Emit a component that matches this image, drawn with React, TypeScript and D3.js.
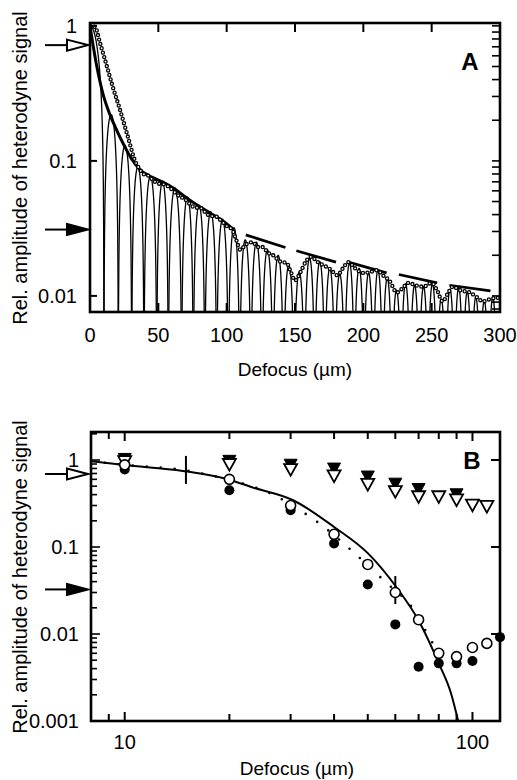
import React from "react";
import * as d3 from "d3";

const W = 517;
const H = 780;
const FONT = "'Liberation Sans', Arial, Helvetica, sans-serif";

// ---------- Panel A: amplitude vs defocus (linear x, log y) ----------
const xTicksA = [0, 50, 100, 150, 200, 250, 300];
const yTicksA = [1, 0.1, 0.01];
const yTickLabelsA = ["1", "0.1", "0.01"];

// zeros of the oscillating signal (µm)
const lobeZerosA = [
  10.2, 20.7, 30.5, 39.5, 48.8, 57.3, 67, 75.6, 84, 92.7, 101.2, 109.5, 117.7,
  125.8, 133.8, 141.6, 149.3, 156.9, 164.4, 171.8, 179.1, 186.3, 193.4, 200.4,
  207.3, 214.1, 220.9, 227.6, 234.2, 240.8, 247.3, 253.8, 260.2, 266.6, 272.9,
  279.2, 285.4, 291.6, 297.8,
];
// peak of the central lobe at zero defocus, then one peak per side lobe
const centralPeakA = 1.0;
const lobePeaksA = [
  0.22, 0.13, 0.09, 0.077, 0.07, 0.063, 0.054, 0.047, 0.042, 0.037, 0.032,
  0.026, 0.025, 0.022, 0.02, 0.017, 0.015, 0.019, 0.018, 0.016, 0.0145, 0.0175,
  0.016, 0.0148, 0.0155, 0.0135, 0.011, 0.0123, 0.012, 0.0117, 0.0123, 0.0095,
  0.0112, 0.0115, 0.0107, 0.0098, 0.0092, 0.0097,
];

// envelope (thick line)
const envDefocusA = [0, 5, 10, 14.6, 20, 25, 30, 36.6, 44, 53, 62, 71, 80, 88, 97, 105];
const envAmpA = [1.0, 0.5, 0.3, 0.22, 0.165, 0.13, 0.105, 0.086, 0.077, 0.07, 0.062, 0.053, 0.046, 0.041, 0.036, 0.031];

// measured profile (open circles)
const measDefocusA = [
  0, 3.7, 7.3, 12.4, 16.8, 21.9, 27.8, 33, 36.6, 40, 42.4, 46, 50, 54, 57, 61, 65,
  69.5, 73, 77, 80.5, 84, 88, 91.4, 96, 100, 104, 107, 110, 114, 119, 123, 126.6,
  130, 134, 139, 144, 147, 150, 154, 158, 162, 166, 170, 175, 178, 181, 185, 189,
  194, 200, 205, 210, 215, 219, 224.6, 229, 233, 238, 244, 250, 254, 258, 262,
  265.5, 271, 278, 283, 287.5, 293, 297.7, 300,
];
const measAmpA = [
  1.0, 0.98, 0.75, 0.5, 0.35, 0.24, 0.15, 0.1, 0.086, 0.079, 0.078, 0.072, 0.068,
  0.067, 0.065, 0.06, 0.055, 0.052, 0.048, 0.045, 0.045, 0.042, 0.039, 0.039,
  0.036, 0.033, 0.031, 0.026, 0.022, 0.024, 0.025, 0.023, 0.023, 0.021, 0.02,
  0.018, 0.0175, 0.015, 0.013, 0.015, 0.018, 0.0195, 0.018, 0.017, 0.016, 0.015,
  0.0142, 0.016, 0.0178, 0.016, 0.0148, 0.015, 0.0155, 0.014, 0.013, 0.0106,
  0.0115, 0.0125, 0.012, 0.0117, 0.0125, 0.011, 0.0091, 0.0105, 0.0117, 0.011,
  0.0106, 0.0098, 0.0091, 0.0095, 0.0097, 0.0095,
];

// straight envelope segments at large defocus
const segStartA = [114, 151, 189, 226, 263];
const segEndA = [143, 180, 217, 254, 293];
const segStartAmpA = [0.0283, 0.0216, 0.0178, 0.0144, 0.012];
const segEndAmpA = [0.0228, 0.0178, 0.0148, 0.0125, 0.0109];

// arrow levels on the amplitude axis
const openArrowLevel = 0.72;
const filledArrowLevel = 0.031;

// ---------- Panel B: amplitude vs defocus (log x, log y) ----------
const xTickLabelsB = [10, 100];
const xMinorB = [9, 10, 20, 30, 40, 50, 60, 70, 80, 90, 100];
const yTicksB = [1, 0.1, 0.01, 0.001];
const yTickLabelsB = ["1", "0.1", "0.01", "0.001"];

const defocusB = [10, 20, 30, 40, 50, 60, 70, 80, 90, 100, 110, 120];
const openCircleB = [0.88, 0.6, 0.3, 0.14, 0.063, 0.03, 0.0146, 0.006, 0.0055, 0.007, 0.0078, null];
const filledCircleB = [0.78, 0.45, 0.265, 0.11, 0.037, 0.0129, 0.0042, 0.0046, 0.0046, 0.0049, null, 0.0092];
const openTriB = [0.95, 0.88, 0.77, 0.65, 0.52, 0.43, 0.375, 0.375, 0.345, 0.3, 0.29, null];
const filledTriB = [1.02, 0.97, 0.875, 0.79, 0.64, 0.53, 0.46, null, 0.4, null, null, null];

// model curve (solid)
const fitDefocusB = [8, 10, 14.7, 20.1, 23.1, 30.5, 40, 50, 60.6, 70, 80, 86.7, 91];
const fitAmpB = [0.97, 0.875, 0.75, 0.59, 0.49, 0.345, 0.17, 0.085, 0.034, 0.0143, 0.0046, 0.0021, 0.001];

// second model (dotted)
const dotDefocusB = [8, 10, 15, 20, 26, 32.5, 36.2, 44.8, 55.7, 68, 77, 83];
const dotAmpB = [0.97, 0.88, 0.76, 0.59, 0.42, 0.253, 0.188, 0.092, 0.041, 0.0187, 0.0078, 0.0054];

// bars marking characteristic defocus values on the curve
const barDefocusB = [15, 60];
const barAmpB = [0.77, 0.032];

// ---------- geometry ----------
const A = { left: 90, right: 500, top: 23, bottom: 312 };
const B = { left: 91, right: 500, top: 432, bottom: 721 };

const xA = d3.scaleLinear().domain([0, 300]).range([A.left, A.right]);
const yA = d3.scaleLog().domain([0.0076, 1.05]).range([A.bottom, A.top]);
const xB = d3.scaleLog().domain([8, 120]).range([B.left, B.right]);
const yB = d3.scaleLog().domain([0.001, 2.1]).range([B.bottom, B.top]);

function minorLogTicks(lo: number, hi: number) {
  const out: { v: number; major: boolean }[] = [];
  for (let e = -4; e <= 1; e++) {
    for (let m = 1; m <= 9; m++) {
      const v = m * Math.pow(10, e);
      if (v >= lo * 0.999 && v <= hi * 1.001) out.push({ v, major: m === 1 });
    }
  }
  return out;
}

// one arch of the oscillating signal between two zeros
function archPath(a: number, b: number, peak: number, half = false) {
  const n = 48;
  const pts: [number, number][] = [];
  for (let i = 0; i <= n; i++) {
    const t = i / n;
    const s = half ? Math.cos((Math.PI / 2) * t) : Math.sin(Math.PI * t);
    const v = Math.max(peak * s, 0.004);
    pts.push([xA(a + (b - a) * t), yA(v)]);
  }
  return d3.line()(pts) as string;
}

function Arrow({ y, filled }: { y: number; filled: boolean }) {
  return (
    <g>
      <line x1={45} x2={68} y1={y} y2={y} stroke="#000" strokeWidth={2} />
      <polygon
        points={`${67},${y - 5.5} ${88},${y} ${67},${y + 5.5}`}
        fill={filled ? "#000" : "#fff"}
        stroke="#000"
        strokeWidth={2}
        strokeLinejoin="miter"
      />
    </g>
  );
}

function YTitle({ cy }: { cy: number }) {
  return (
    <text
      transform={`translate(27,${cy}) rotate(-90)`}
      textAnchor="middle"
      fontFamily={FONT}
      fontSize={20}
      fill="#000"
    >
      Rel. amplitude of heterodyne signal
    </text>
  );
}

function triPath(cx: number, cy: number, s: number) {
  const h = s * 0.9;
  return `M${cx - s / 2},${cy - h / 2}L${cx + s / 2},${cy - h / 2}L${cx},${cy + h / 2}Z`;
}

export default function App() {
  const envLine = d3
    .line<number>()
    .x((d) => xA(envDefocusA[d]))
    .y((d) => yA(envAmpA[d]))
    .curve(d3.curveMonotoneX);
  const measLine = d3
    .line<number>()
    .x((d) => xA(measDefocusA[d]))
    .y((d) => yA(measAmpA[d]))
    .curve(d3.curveMonotoneX);
  const fitLine = d3
    .line<number>()
    .x((d) => xB(fitDefocusB[d]))
    .y((d) => yB(fitAmpB[d]))
    .curve(d3.curveMonotoneX);
  const dotLine = d3
    .line<number>()
    .x((d) => xB(dotDefocusB[d]))
    .y((d) => yB(dotAmpB[d]))
    .curve(d3.curveMonotoneX);

  const envD = envLine(d3.range(envDefocusA.length)) as string;
  const measD = measLine(d3.range(measDefocusA.length)) as string;
  const fitD = fitLine(d3.range(fitDefocusB.length)) as string;
  const dotD = dotLine(d3.range(dotDefocusB.length)) as string;

  const rightTicksA = minorLogTicks(0.0076, 1.05);
  const leftTicksB = minorLogTicks(0.001, 2.1);

  return (
    <svg
      width={W}
      height={H}
      viewBox={`0 0 ${W} ${H}`}
      style={{ position: "absolute", left: 0, top: 0, background: "#fff" }}
    >
      <defs>
        <clipPath id="clipA">
          <rect x={A.left} y={A.top} width={A.right - A.left} height={A.bottom - A.top} />
        </clipPath>
        <clipPath id="clipB">
          <rect x={B.left} y={B.top} width={B.right - B.left} height={B.bottom - B.top} />
        </clipPath>
      </defs>
      <rect x={0} y={0} width={W} height={H} fill="#fff" />

      {/* ===== Panel A ===== */}
      <g clipPath="url(#clipA)">
        <path d={archPath(0, lobeZerosA[0], centralPeakA, true)} fill="none" stroke="#000" strokeWidth={1.3} />
        {lobePeaksA.map((p, i) => (
          <path
            key={i}
            d={archPath(lobeZerosA[i], lobeZerosA[i + 1], p)}
            fill="none"
            stroke="#000"
            strokeWidth={1.3}
          />
        ))}
        <path d={envD} fill="none" stroke="#000" strokeWidth={3} />
        {segStartA.map((s, i) => (
          <line
            key={i}
            x1={xA(s)}
            y1={yA(segStartAmpA[i])}
            x2={xA(segEndA[i])}
            y2={yA(segEndAmpA[i])}
            stroke="#000"
            strokeWidth={2.7}
          />
        ))}
        {/* open-circle markers along the measured profile */}
        <path d={measD} fill="none" stroke="#000" strokeWidth={4.4} strokeDasharray="0 4.6" strokeLinecap="round" />
        <path d={measD} fill="none" stroke="#fff" strokeWidth={1.8} strokeDasharray="0 4.6" strokeLinecap="round" />
      </g>
      {/* frame and ticks A */}
      <rect
        x={A.left}
        y={A.top}
        width={A.right - A.left}
        height={A.bottom - A.top}
        fill="none"
        stroke="#000"
        strokeWidth={2.6}
      />
      {xTicksA.slice(1, -1).map((t) => (
        <g key={t}>
          <line x1={xA(t)} x2={xA(t)} y1={A.top} y2={A.top + 9} stroke="#000" strokeWidth={2} />
          <line x1={xA(t)} x2={xA(t)} y1={A.bottom} y2={A.bottom - 9} stroke="#000" strokeWidth={2} />
        </g>
      ))}
      {yTicksA.map((t) => (
        <line key={t} x1={A.left} x2={A.left + 7} y1={yA(t)} y2={yA(t)} stroke="#000" strokeWidth={2} />
      ))}
      {rightTicksA.map((t, i) => (
        <line key={i} x1={A.right} x2={A.right - 8} y1={yA(t.v)} y2={yA(t.v)} stroke="#000" strokeWidth={1.6} />
      ))}
      {xTicksA.map((t) => (
        <text key={t} x={xA(t)} y={342} textAnchor="middle" fontFamily={FONT} fontSize={20}>
          {t}
        </text>
      ))}
      {yTicksA.map((t, i) => (
        <text key={t} x={77} y={yA(t) + 7} textAnchor="end" fontFamily={FONT} fontSize={20}>
          {yTickLabelsA[i]}
        </text>
      ))}
      <text x={295} y={376} textAnchor="middle" fontFamily={FONT} fontSize={19}>
        Defocus (µm)
      </text>
      <YTitle cy={168} />
      <text x={470} y={70} textAnchor="middle" fontFamily={FONT} fontSize={24} fontWeight="bold">
        A
      </text>
      <Arrow y={yA(openArrowLevel)} filled={false} />
      <Arrow y={yA(filledArrowLevel)} filled={true} />

      {/* ===== Panel B ===== */}
      <g clipPath="url(#clipB)">
        <path d={fitD} fill="none" stroke="#000" strokeWidth={2} />
        <path d={dotD} fill="none" stroke="#000" strokeWidth={2.6} strokeDasharray="0 14" strokeLinecap="round" />
        {barDefocusB.map((x, i) => (
          <line
            key={i}
            x1={xB(x)}
            x2={xB(x)}
            y1={yB(barAmpB[i]) - 14}
            y2={yB(barAmpB[i]) + 14}
            stroke="#000"
            strokeWidth={2}
          />
        ))}
      </g>
      {defocusB.map((x, i) =>
        filledTriB[i] != null ? (
          <path key={"ft" + i} d={triPath(xB(x), yB(filledTriB[i] as number), 13)} fill="#000" stroke="#000" strokeWidth={1} />
        ) : null
      )}
      {defocusB.map((x, i) =>
        openTriB[i] != null ? (
          <path key={"ot" + i} d={triPath(xB(x), yB(openTriB[i] as number), 13)} fill="#fff" stroke="#000" strokeWidth={1.8} />
        ) : null
      )}
      {defocusB.map((x, i) =>
        filledCircleB[i] != null ? (
          <circle key={"fc" + i} cx={xB(x)} cy={yB(filledCircleB[i] as number)} r={5} fill="#000" />
        ) : null
      )}
      {defocusB.map((x, i) =>
        openCircleB[i] != null ? (
          <circle key={"oc" + i} cx={xB(x)} cy={yB(openCircleB[i] as number)} r={5} fill="#fff" stroke="#000" strokeWidth={1.6} />
        ) : null
      )}
      <rect
        x={B.left}
        y={B.top}
        width={B.right - B.left}
        height={B.bottom - B.top}
        fill="none"
        stroke="#000"
        strokeWidth={2.6}
      />
      {xMinorB.map((t) => {
        const len = t === 10 || t === 100 ? 9 : 7;
        return (
          <g key={t}>
            <line x1={xB(t)} x2={xB(t)} y1={B.top} y2={B.top + len} stroke="#000" strokeWidth={2} />
            <line x1={xB(t)} x2={xB(t)} y1={B.bottom} y2={B.bottom - len} stroke="#000" strokeWidth={2} />
          </g>
        );
      })}
      {leftTicksB.map((t, i) => (
        <line
          key={i}
          x1={B.left}
          x2={B.left + (t.major ? 9 : 6)}
          y1={yB(t.v)}
          y2={yB(t.v)}
          stroke="#000"
          strokeWidth={1.6}
        />
      ))}
      {yTicksB.slice(0, 3).map((t) => (
        <line key={t} x1={B.right} x2={B.right - 9} y1={yB(t)} y2={yB(t)} stroke="#000" strokeWidth={2} />
      ))}
      {xTickLabelsB.map((t) => (
        <text key={t} x={xB(t)} y={749} textAnchor="middle" fontFamily={FONT} fontSize={20}>
          {t}
        </text>
      ))}
      {yTicksB.map((t, i) => (
        <text key={t} x={79} y={yB(t) + 7} textAnchor="end" fontFamily={FONT} fontSize={20}>
          {yTickLabelsB[i]}
        </text>
      ))}
      <text x={297} y={775} textAnchor="middle" fontFamily={FONT} fontSize={19}>
        Defocus (µm)
      </text>
      <YTitle cy={577} />
      <text x={472} y={469} textAnchor="middle" fontFamily={FONT} fontSize={24} fontWeight="bold">
        B
      </text>
      <Arrow y={yB(openArrowLevel * 0.96)} filled={false} />
      <Arrow y={yB(filledArrowLevel * 1.05)} filled={true} />
    </svg>
  );
}
